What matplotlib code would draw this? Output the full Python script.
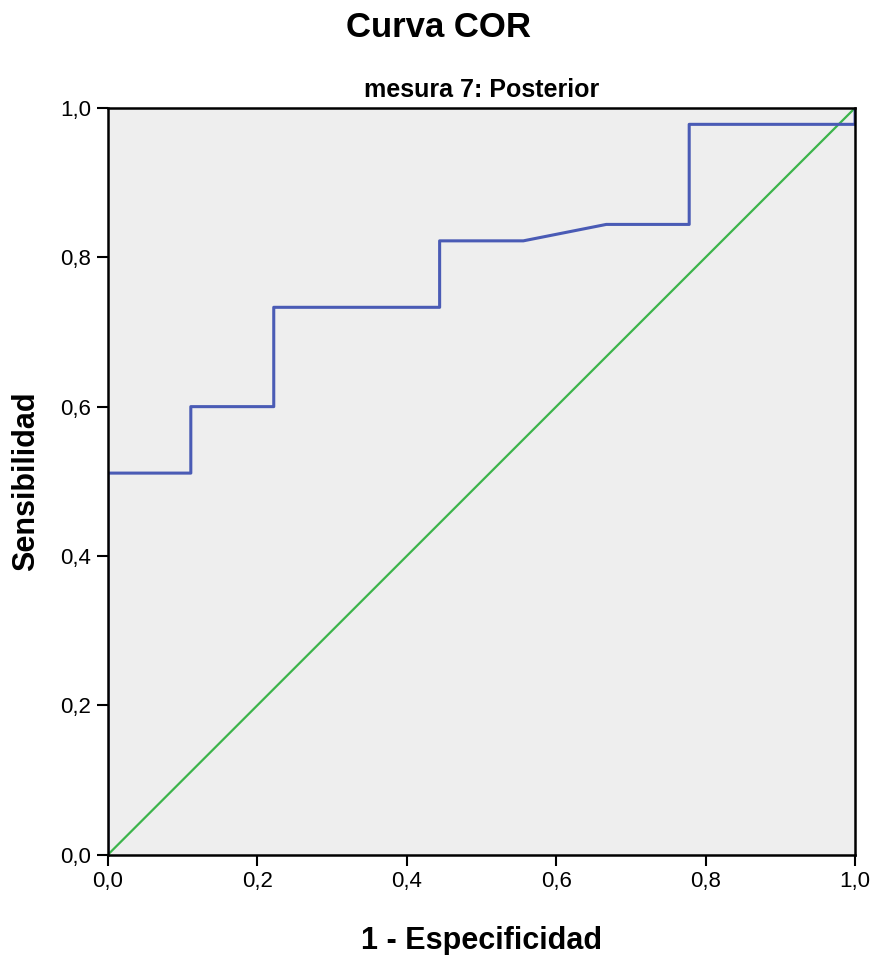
import numpy as np
import matplotlib.pyplot as plt

plt.rcParams['font.family'] = ['Liberation Sans', 'DejaVu Sans']

# ROC curve points (1 - especificidad, sensibilidad)
fpr = [0.0, 0.0, 0.111, 0.111, 0.222, 0.222, 0.444, 0.444, 0.556, 0.667, 0.778, 0.778, 1.0, 1.0]
tpr = [0.0, 0.511, 0.511, 0.600, 0.600, 0.733, 0.733, 0.822, 0.822, 0.844, 0.844, 0.978, 0.978, 1.0]
ref = [0.0, 1.0]
ticks = [0.0, 0.2, 0.4, 0.6, 0.8, 1.0]
tick_labels = ["0,0", "0,2", "0,4", "0,6", "0,8", "1,0"]

fig = plt.figure(figsize=(8.77, 9.55), dpi=100)
ax = fig.add_axes([0.123, 0.105, 0.852, 0.782])
ax.set_facecolor("#eeeeee")

ax.plot(ref, ref, color="#3cb44b", lw=1.6)
ax.plot(fpr, tpr, color="#4a5bb5", lw=2.2)

ax.set_xlim(0, 1)
ax.set_ylim(0, 1)
ax.set_xticks(ticks)
ax.set_xticklabels(tick_labels)
ax.set_yticks(ticks)
ax.set_yticklabels(tick_labels)
ax.tick_params(direction="out", length=8, width=1.5, labelsize=16, pad=4)
for s in ax.spines.values():
    s.set_linewidth(1.8)

ax.set_xlabel("1 - Especificidad", fontsize=22, fontweight="bold", labelpad=24)
ax.set_ylabel("Sensibilidad", fontsize=22, fontweight="bold", labelpad=14)
ax.set_title("mesura 7: Posterior", fontsize=18, fontweight="bold", pad=8)
fig.suptitle("Curva COR", fontsize=25, fontweight="bold", y=0.971, va="center")

fig.savefig("out.png", dpi=100)
